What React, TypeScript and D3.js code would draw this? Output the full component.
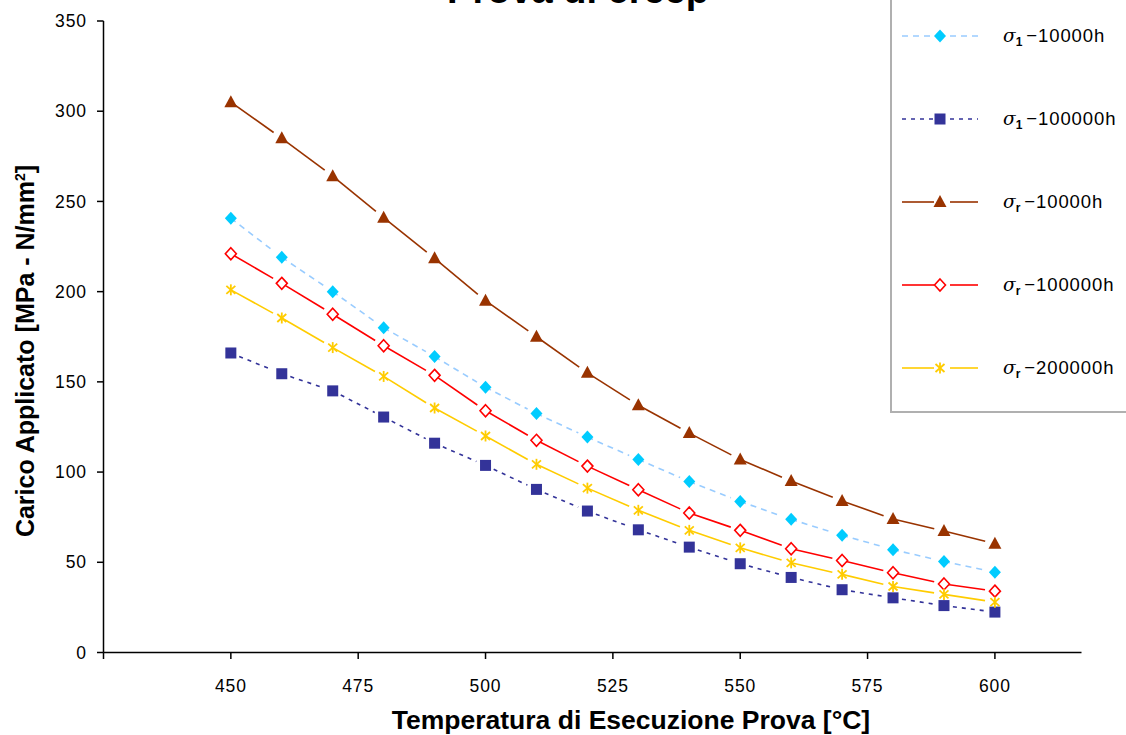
import React from "react";
import * as d3 from "d3";

const temps = [450, 460, 470, 480, 490, 500, 510, 520, 530, 540, 550, 560, 570, 580, 590, 600];
const s1_10000 = [240.7, 219, 200, 180, 164, 147, 132.4, 119.4, 107, 94.8, 83.7, 73.8, 65, 57, 50.5, 44.5];
const s1_100000 = [166, 154.5, 145, 130.5, 116, 103.7, 90.4, 78.4, 68, 58.4, 49.2, 41.6, 34.8, 30.3, 26, 22.4];
const sr_10000 = [305, 285, 264, 241, 218.5, 195, 175, 155, 137, 121.6, 107, 95, 84, 74, 67.3, 60.3];
const sr_100000 = [221, 204.6, 187.5, 170, 153.6, 134, 117.6, 103.3, 90.2, 77.3, 67.7, 57.5, 51, 44.2, 38, 34];
const sr_200000 = [201, 185.4, 169, 153, 135.5, 120, 104.3, 91.1, 78.8, 67.7, 58, 49.7, 43.3, 36.6, 32.2, 27.9];

const yTicks = [0, 50, 100, 150, 200, 250, 300, 350];
const xTickMarks = [425, 450, 475, 500, 525, 550, 575, 600];
const xTickLabels = [450, 475, 500, 525, 550, 575, 600];

type Marker = "diamond" | "square" | "triangle" | "openDiamond" | "asterisk";
interface Series {
  sym: string;
  label: string;
  values: number[];
  marker: Marker;
  color: string;
  lineColor: string;
  dash?: string;
}

const series: Series[] = [
  { sym: "1", label: "−10000h", values: s1_10000, marker: "diamond", color: "#00CCFF", lineColor: "#99CCFF", dash: "6,5" },
  { sym: "1", label: "−100000h", values: s1_100000, marker: "square", color: "#333399", lineColor: "#333399", dash: "4,5" },
  { sym: "r", label: "−10000h", values: sr_10000, marker: "triangle", color: "#993300", lineColor: "#993300" },
  { sym: "r", label: "−100000h", values: sr_100000, marker: "openDiamond", color: "#FF0000", lineColor: "#FF0000" },
  { sym: "r", label: "−200000h", values: sr_200000, marker: "asterisk", color: "#FFCC00", lineColor: "#FFCC00" },
];

const x = d3.scaleLinear().domain([425, 617]).range([103.5, 1081.5]);
const y = d3.scaleLinear().domain([0, 350]).range([652.5, 21]);

function MarkerShape({ m, cx, cy, color }: { m: Marker; cx: number; cy: number; color: string }) {
  switch (m) {
    case "diamond":
      return <path d={`M${cx},${cy - 6.5}L${cx + 6},${cy}L${cx},${cy + 6.5}L${cx - 6},${cy}Z`} fill={color} />;
    case "square":
      return <rect x={cx - 5.5} y={cy - 5.5} width={11} height={11} fill={color} />;
    case "triangle":
      return <path d={`M${cx},${cy - 7}L${cx + 6.5},${cy + 5}L${cx - 6.5},${cy + 5}Z`} fill={color} />;
    case "openDiamond":
      return (
        <path
          d={`M${cx},${cy - 6}L${cx + 5.5},${cy}L${cx},${cy + 6}L${cx - 5.5},${cy}Z`}
          fill="#fff"
          stroke={color}
          strokeWidth={1.6}
        />
      );
    case "asterisk":
      return (
        <g stroke={color} strokeWidth={1.8}>
          <line x1={cx} y1={cy - 5.5} x2={cx} y2={cy + 5.5} />
          <line x1={cx - 4.5} y1={cy - 4} x2={cx + 4.5} y2={cy + 4} />
          <line x1={cx - 4.5} y1={cy + 4} x2={cx + 4.5} y2={cy - 4} />
        </g>
      );
  }
}

function seriesSegments(s: Series) {
  const pts = s.values.map((v, i) => [x(temps[i]), y(v)] as [number, number]);
  const segs: string[] = [];
  for (let i = 0; i < pts.length - 1; i++) {
    const [x1, y1] = pts[i];
    const [x2, y2] = pts[i + 1];
    const dx = x2 - x1, dy = y2 - y1;
    const len = Math.hypot(dx, dy);
    const gap = 10;
    const ex = x1 + (dx * (len - gap)) / len;
    const ey = y1 + (dy * (len - gap)) / len;
    segs.push(d3.line()([[x1, y1], [ex, ey]]) as string);
  }
  return { pts, segs };
}

export default function App() {
  const font = "'Liberation Sans', Arial, sans-serif";
  const legendRows = [36, 119, 202, 285, 368];
  return (
    <svg
      width={1126}
      height={735}
      style={{ position: "absolute", left: 0, top: 0, background: "#fff" }}
      fontFamily={font}
    >
      <rect width={1126} height={735} fill="#fff" />
      {/* title (cropped, as in the reference) */}
      <text x={578} y={2.5} textAnchor="middle" fontSize={38} fontWeight="bold" fill="#000">
        Prova di creep
      </text>

      {/* axes */}
      <line x1={103.5} y1={y(0)} x2={1081.5} y2={y(0)} stroke="#000" strokeWidth={1.5} />
      <line x1={103.5} y1={y(350)} x2={103.5} y2={y(0)} stroke="#000" strokeWidth={1.5} />
      {yTicks.map((t) => (
        <g key={"y" + t}>
          <line x1={97} x2={103.5} y1={y(t)} y2={y(t)} stroke="#000" strokeWidth={1.5} />
          <text x={87} y={y(t)} dy="0.35em" textAnchor="end" fontSize={17.5} letterSpacing={0.9} fill="#000">
            {t}
          </text>
        </g>
      ))}
      {xTickMarks.map((t) => (
        <line key={"xt" + t} x1={x(t)} x2={x(t)} y1={y(0)} y2={y(0) + 6.5} stroke="#000" strokeWidth={1.5} />
      ))}
      {xTickLabels.map((t) => (
        <text key={"xl" + t} x={x(t)} y={692} textAnchor="middle" fontSize={17.5} letterSpacing={0.9} fill="#000">
          {t}
        </text>
      ))}
      <text x={631} y={729} textAnchor="middle" fontSize={26.5} fontWeight="bold" fill="#000">
        Temperatura di Esecuzione Prova [°C]
      </text>
      <text
        transform={`translate(34,351) rotate(-90)`}
        textAnchor="middle"
        fontSize={25}
        fontWeight="bold"
        fill="#000"
      >
        Carico Applicato [MPa - N/mm
        <tspan dy={-9} fontSize={14}>2</tspan>
        <tspan dy={9}>]</tspan>
      </text>

      {/* series */}
      {series.map((s, si) => {
        const { pts, segs } = seriesSegments(s);
        return (
          <g key={"s" + si}>
            {segs.map((d, i) => (
              <path
                key={i}
                d={d}
                fill="none"
                stroke={s.lineColor}
                strokeWidth={1.6}
                strokeDasharray={s.dash}
              />
            ))}
            {pts.map(([px, py], i) => (
              <MarkerShape key={i} m={s.marker} cx={px} cy={py} color={s.color} />
            ))}
          </g>
        );
      })}

      {/* legend */}
      <rect x={891} y={-5} width={260} height={417} fill="#fff" stroke="#B0B0B0" strokeWidth={2} />
      {series.map((s, i) => {
        const ly = legendRows[i];
        return (
          <g key={"lg" + i}>
            <line x1={902} x2={934} y1={ly} y2={ly} stroke={s.lineColor} strokeWidth={1.6} strokeDasharray={s.dash} />
            <line x1={950} x2={978} y1={ly} y2={ly} stroke={s.lineColor} strokeWidth={1.6} strokeDasharray={s.dash} />
            <MarkerShape m={s.marker} cx={940} cy={ly} color={s.color} />
            <text x={1003} y={ly} dy="0.35em" fontSize={18.5} fill="#000">
              <tspan fontStyle="italic" fontFamily="'DejaVu Serif', serif">σ</tspan>
              <tspan dy={4} fontSize={12} fontWeight="bold">{s.sym}</tspan>
              <tspan dy={-4} dx={4} letterSpacing={0.9}>{s.label}</tspan>
            </text>
          </g>
        );
      })}
    </svg>
  );
}
